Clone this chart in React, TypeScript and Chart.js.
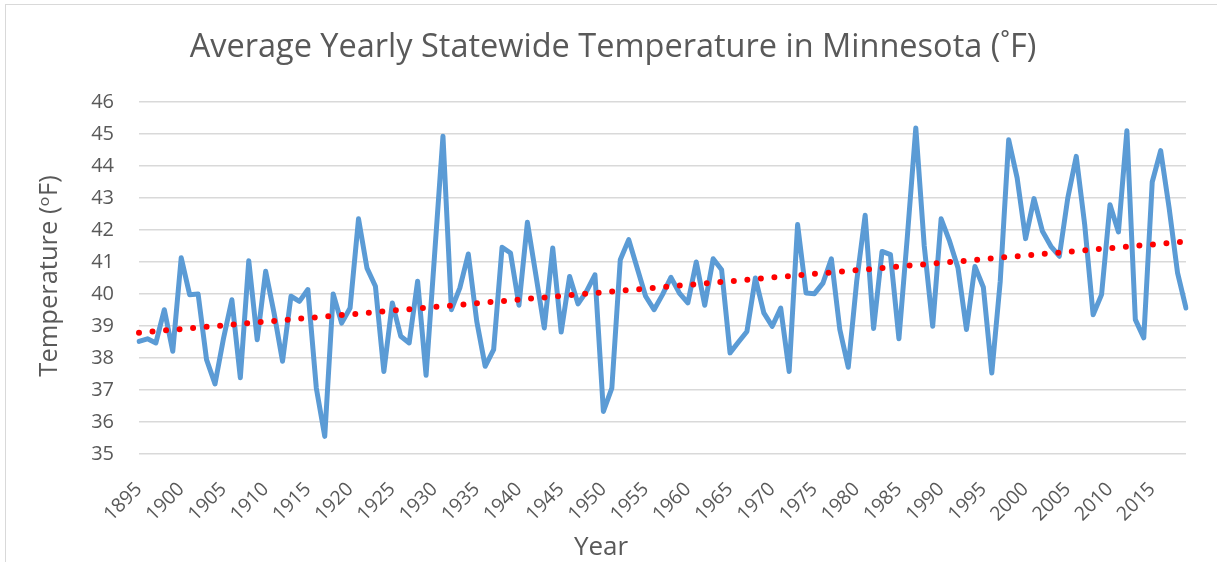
import React, { useEffect, useRef } from "react";
import { Chart, registerables } from "chart.js";

Chart.register(...registerables);

const TITLE = "Average Yearly Statewide Temperature in Minnesota (˚F)";
const Y_TITLE = "Temperature (ᵒF)";
const X_TITLE = "Year";

const YEARS: number[] = [
  1895, 1896, 1897, 1898, 1899, 1900, 1901, 1902, 1903, 1904,
  1905, 1906, 1907, 1908, 1909, 1910, 1911, 1912, 1913, 1914,
  1915, 1916, 1917, 1918, 1919, 1920, 1921, 1922, 1923, 1924,
  1925, 1926, 1927, 1928, 1929, 1930, 1931, 1932, 1933, 1934,
  1935, 1936, 1937, 1938, 1939, 1940, 1941, 1942, 1943, 1944,
  1945, 1946, 1947, 1948, 1949, 1950, 1951, 1952, 1953, 1954,
  1955, 1956, 1957, 1958, 1959, 1960, 1961, 1962, 1963, 1964,
  1965, 1966, 1967, 1968, 1969, 1970, 1971, 1972, 1973, 1974,
  1975, 1976, 1977, 1978, 1979, 1980, 1981, 1982, 1983, 1984,
  1985, 1986, 1987, 1988, 1989, 1990, 1991, 1992, 1993, 1994,
  1995, 1996, 1997, 1998, 1999, 2000, 2001, 2002, 2003, 2004,
  2005, 2006, 2007, 2008, 2009, 2010, 2011, 2012, 2013, 2014,
  2015, 2016, 2017, 2018, 2019,
];

const TEMPS: number[] = [
  38.52, 38.6, 38.47, 39.51, 38.21, 41.13, 39.98, 40.0, 37.95, 37.19,
  38.6, 39.82, 37.38, 41.04, 38.57, 40.71, 39.4, 37.9, 39.93, 39.77,
  40.14, 37.06, 35.55, 40.0, 39.09, 39.56, 42.35, 40.81, 40.24, 37.58,
  39.72, 38.68, 38.47, 40.4, 37.46, 41.2, 44.93, 39.51, 40.19, 41.25,
  39.15, 37.74, 38.26, 41.46, 41.28, 39.65, 42.24, 40.6, 38.94, 41.44,
  38.81, 40.55, 39.69, 40.08, 40.6, 36.33, 37.06, 41.07, 41.7, 40.81,
  39.93, 39.51, 39.98, 40.52, 40.03, 39.72, 41.0, 39.65, 41.1, 40.76,
  38.16, 38.5, 38.83, 40.5, 39.41, 38.99, 39.56, 37.58, 42.17, 40.03,
  40.01, 40.34, 41.1, 38.89, 37.71, 40.4, 42.46, 38.92, 41.33, 41.23,
  38.6, 41.8, 45.19, 41.5, 38.99, 42.35, 41.65, 40.81, 38.89, 40.86,
  40.21, 37.53, 40.4, 44.82, 43.63, 41.73, 42.98, 41.96, 41.49, 41.18,
  43.0, 44.3, 42.17, 39.35, 39.98, 42.79, 41.94, 45.1, 39.2, 38.63,
  43.5, 44.48, 42.69, 40.66, 39.56,
];

const TICK_LABELS: string[] = [
  "1895", "1900", "1905", "1910", "1915", "1920", "1925", "1930", "1935",
  "1940", "1945", "1950", "1955", "1960", "1965", "1970", "1975", "1980",
  "1985", "1990", "1995", "2000", "2005", "2010", "2015",
];

const Y_MIN = 35;
const Y_MAX = 46;
const Y_STEP = 1;

// linear trendline endpoints
const TREND_START = 38.79;
const TREND_END = 41.64;

const TEXT_COLOR = "#595959";
const FONT = '"Open Sans", "DejaVu Sans", sans-serif';

export default function App() {
  const canvasRef = useRef<HTMLCanvasElement | null>(null);

  useEffect(() => {
    const canvas = canvasRef.current;
    if (!canvas) return;

    const labels = YEARS.map((y) => String(y));
    const trend: (number | null)[] = YEARS.map(() => null);
    trend[0] = TREND_START;
    trend[trend.length - 1] = TREND_END;

    const titles = {
      id: "customTitles",
      afterDraw(chart: any) {
        const ctx = chart.ctx;
        ctx.save();
        ctx.fillStyle = TEXT_COLOR;
        ctx.textAlign = "center";
        ctx.textBaseline = "middle";
        ctx.font = `32.5px ${FONT}`;
        ctx.fillText(TITLE, 613, 48);
        ctx.font = `26px ${FONT}`;
        ctx.fillText(X_TITLE, 601, 548);
        ctx.font = `25.5px ${FONT}`;
        ctx.translate(50, 276);
        ctx.rotate(-Math.PI / 2);
        ctx.fillText(Y_TITLE, 0, 0);
        ctx.restore();
      },
    };

    const chart = new Chart(canvas, {
      type: "line",
      data: {
        labels,
        datasets: [
          {
            label: "Trend",
            data: trend,
            spanGaps: true,
            borderColor: "#FF0000",
            borderWidth: 6,
            borderDash: [0, 13.57],
            borderCapStyle: "round",
            pointRadius: 0,
            fill: false,
          },
          {
            label: "Temperature",
            data: TEMPS,
            borderColor: "#5B9BD5",
            borderWidth: 5,
            borderJoinStyle: "round",
            borderCapStyle: "round",
            pointRadius: 0,
            tension: 0,
            fill: false,
          },
        ],
      },
      options: {
        responsive: false,
        animation: false,
        devicePixelRatio: 1,
        layout: { padding: { left: 0, right: 31, top: 102, bottom: 0 } },
        plugins: {
          legend: { display: false },
          title: { display: false },
          tooltip: { enabled: false },
        },
        scales: {
          x: {
            type: "category",
            offset: false,
            grid: { display: false, drawTicks: false },
            border: { display: false },
            afterFit: (s: any) => {
              s.height = 108;
              s.paddingLeft = 0;
              s.paddingRight = 0;
            },
            ticks: {
              autoSkip: false,
              maxRotation: 45,
              minRotation: 45,
              padding: 24,
              color: TEXT_COLOR,
              font: { family: FONT, size: 19.5 },
              callback: function (this: any, _v: any, i: number) {
                const lab = labels[i];
                return TICK_LABELS.includes(lab) ? lab : "";
              },
            },
          },
          y: {
            min: Y_MIN,
            max: Y_MAX,
            grid: { color: "#D9D9D9", lineWidth: 1.5, drawTicks: false },
            border: { display: false },
            afterFit: (s: any) => {
              s.width = 139;
            },
            ticks: {
              stepSize: Y_STEP,
              padding: 25,
              color: TEXT_COLOR,
              font: { family: FONT, size: 20 },
            },
          },
        },
      },
      plugins: [titles],
    });

    return () => chart.destroy();
  }, []);

  return (
    <div
      style={{
        position: "absolute",
        left: 0,
        top: 0,
        width: 1217,
        height: 562,
        overflow: "hidden",
        background: "#fff",
      }}
    >
      <div
        style={{
          position: "absolute",
          left: 5,
          top: 4,
          width: 1300,
          height: 700,
          border: "1.5px solid #D9D9D9",
          boxSizing: "border-box",
        }}
      />
      <canvas
        ref={canvasRef}
        width={1217}
        height={562}
        style={{ position: "absolute", left: 0, top: 0, width: 1217, height: 562 }}
      />
    </div>
  );
}
